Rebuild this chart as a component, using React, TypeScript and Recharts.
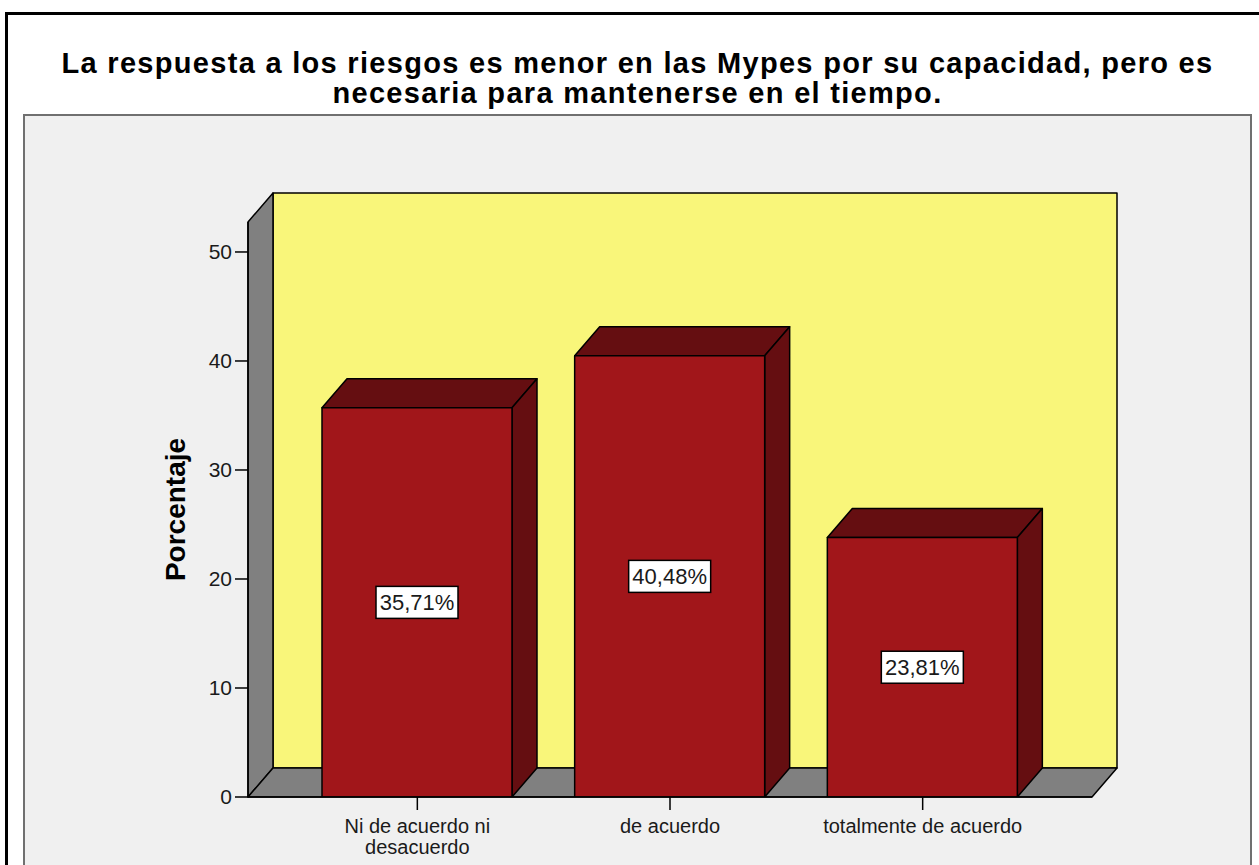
import { BarChart, Bar, XAxis, YAxis, ReferenceArea, LabelList } from "recharts";

const CATEGORIES = ["Ni de acuerdo ni desacuerdo", "de acuerdo", "totalmente de acuerdo"];
const PERCENTS = [35.71, 40.48, 23.81];
const Y_TICKS = [0, 10, 20, 30, 40, 50];
const Y_MAX = 52.75;

const TITLE_LINES = [
  "La respuesta a los riesgos es menor en las Mypes por su capacidad, pero es",
  "necesaria para mantenerse en el tiempo.",
];

const FONT = "'Liberation Sans', Arial, sans-serif";
const DX = 25; // 3d depth
const DY = 29;
const XPAD = 43;
const RED = "#a1161a";
const DARK = "#650e11";
const YELLOW = "#f9f67a";
const WALL = "#808080";
const INK = "#1a1a1a";

const data = CATEGORIES.map((name, i) => ({ name, pct: PERCENTS[i] }));

function wrap(label: string, maxChars: number): string[] {
  const lines: string[] = [];
  let cur = "";
  for (const w of label.split(" ")) {
    const next = cur ? cur + " " + w : w;
    if (next.length > maxChars && cur) {
      lines.push(cur);
      cur = w;
    } else {
      cur = next;
    }
  }
  if (cur) lines.push(cur);
  return lines;
}

function Walls(props: any) {
  const { x, y, width, height } = props;
  const L = x - XPAD;
  const R = x + width + XPAD;
  const T = y;
  const B = y + height;
  const s = { stroke: "#000", strokeWidth: 1.5, strokeLinejoin: "round" as const };
  return (
    <g>
      <rect x={L + DX} y={T - DY} width={R - L} height={B - T} fill={YELLOW} {...s} />
      <polygon
        points={`${L},${T} ${L + DX},${T - DY} ${L + DX},${B - DY} ${L},${B}`}
        fill={WALL}
        {...s}
      />
      <polygon
        points={`${L},${B} ${L + DX},${B - DY} ${R + DX},${B - DY} ${R},${B}`}
        fill={WALL}
        {...s}
      />
    </g>
  );
}

function Bar3D(props: any) {
  const { x, y, width, height } = props;
  const s = { stroke: "#000", strokeWidth: 1.5, strokeLinejoin: "round" as const };
  return (
    <g>
      <polygon
        points={`${x},${y} ${x + DX},${y - DY} ${x + width + DX},${y - DY} ${x + width},${y}`}
        fill={DARK}
        {...s}
      />
      <polygon
        points={`${x + width},${y} ${x + width + DX},${y - DY} ${x + width + DX},${y + height - DY} ${x + width},${y + height}`}
        fill={DARK}
        {...s}
      />
      <rect x={x} y={y} width={width} height={height} fill={RED} {...s} />
    </g>
  );
}

function ValueBox(props: any) {
  const vb = props.viewBox ?? props;
  const { x, y, width, height } = vb;
  const cx = x + width / 2;
  const cy = y + height / 2;
  const text = Number(props.value).toFixed(2).replace(".", ",") + "%";
  const w = 82;
  const h = 32;
  return (
    <g>
      <rect x={cx - w / 2} y={cy - h / 2} width={w} height={h} fill="#fff" stroke="#000" strokeWidth={1.5} />
      <text
        x={cx}
        y={cy + 8}
        textAnchor="middle"
        fontSize={22}
        fontFamily={FONT}
        fill={INK}
      >
        {text}
      </text>
    </g>
  );
}

function CategoryTick(props: any) {
  const { x, y, payload } = props;
  const lines = wrap(String(payload.value), 22);
  return (
    <text x={x} y={y + 21} textAnchor="middle" fontSize={20} fontFamily={FONT} fill={INK}>
      {lines.map((ln, i) => (
        <tspan key={i} x={x} dy={i === 0 ? 0 : 21}>
          {ln}
        </tspan>
      ))}
    </text>
  );
}

function YLabel(props: any) {
  const vb = props.viewBox;
  const x = vb.x + 37;
  const y = vb.y + vb.height / 2;
  return (
    <text
      transform={`translate(${x},${y}) rotate(-90)`}
      textAnchor="middle"
      fontSize={28}
      fontWeight="bold"
      fontFamily={FONT}
      fill="#000"
    >
      Porcentaje
    </text>
  );
}

export default function App() {
  return (
    <div
      style={{
        position: "absolute",
        left: 0,
        top: 0,
        width: 1259,
        height: 865,
        overflow: "hidden",
        background: "#fff",
        fontFamily: FONT,
      }}
    >
      <div
        style={{
          position: "absolute",
          left: 5,
          top: 12,
          width: 1300,
          height: 900,
          border: "3px solid #000",
          boxSizing: "border-box",
        }}
      />
      <div
        style={{
          position: "absolute",
          left: 8,
          top: 48,
          width: 1259,
          textAlign: "center",
          fontWeight: "bold",
          fontSize: 29,
          letterSpacing: 1.3,
          lineHeight: "30px",
          color: "#000",
        }}
      >
        {TITLE_LINES.map((t) => (
          <div key={t}>{t}</div>
        ))}
      </div>
      <div
        style={{
          position: "absolute",
          left: 23,
          top: 114,
          width: 1229,
          height: 800,
          border: "2px solid #707070",
          background: "#f0f0f0",
          boxSizing: "border-box",
        }}
      />
      <div style={{ position: "absolute", left: 0, top: 0 }}>
        <BarChart
          width={1259}
          height={865}
          data={data}
          margin={{ top: 222, right: 167, bottom: 8, left: 148 }}
          barSize={190}
        >
          <ReferenceArea y1={0} y2={Y_MAX} shape={<Walls />} ifOverflow="visible" />
          <XAxis
            dataKey="name"
            padding={{ left: XPAD, right: XPAD }}
            height={60}
            tickSize={13}
            axisLine={{ stroke: "#000", strokeWidth: 1.5 }}
            tickLine={{ stroke: "#000", strokeWidth: 1.5 }}
            tick={<CategoryTick />}
            interval={0}
          />
          <YAxis
            width={100}
            domain={[0, Y_MAX]}
            ticks={Y_TICKS}
            tickSize={13}
            tickMargin={3}
            axisLine={{ stroke: "#000", strokeWidth: 1.5 }}
            tickLine={{ stroke: "#000", strokeWidth: 1.5 }}
            tick={{ fontSize: 21, fontFamily: FONT, fill: INK }}
            label={<YLabel />}
            allowDataOverflow
          />
          <Bar dataKey="pct" shape={<Bar3D />} isAnimationActive={false}>
            <LabelList dataKey="pct" content={<ValueBox />} />
          </Bar>
        </BarChart>
      </div>
    </div>
  );
}
